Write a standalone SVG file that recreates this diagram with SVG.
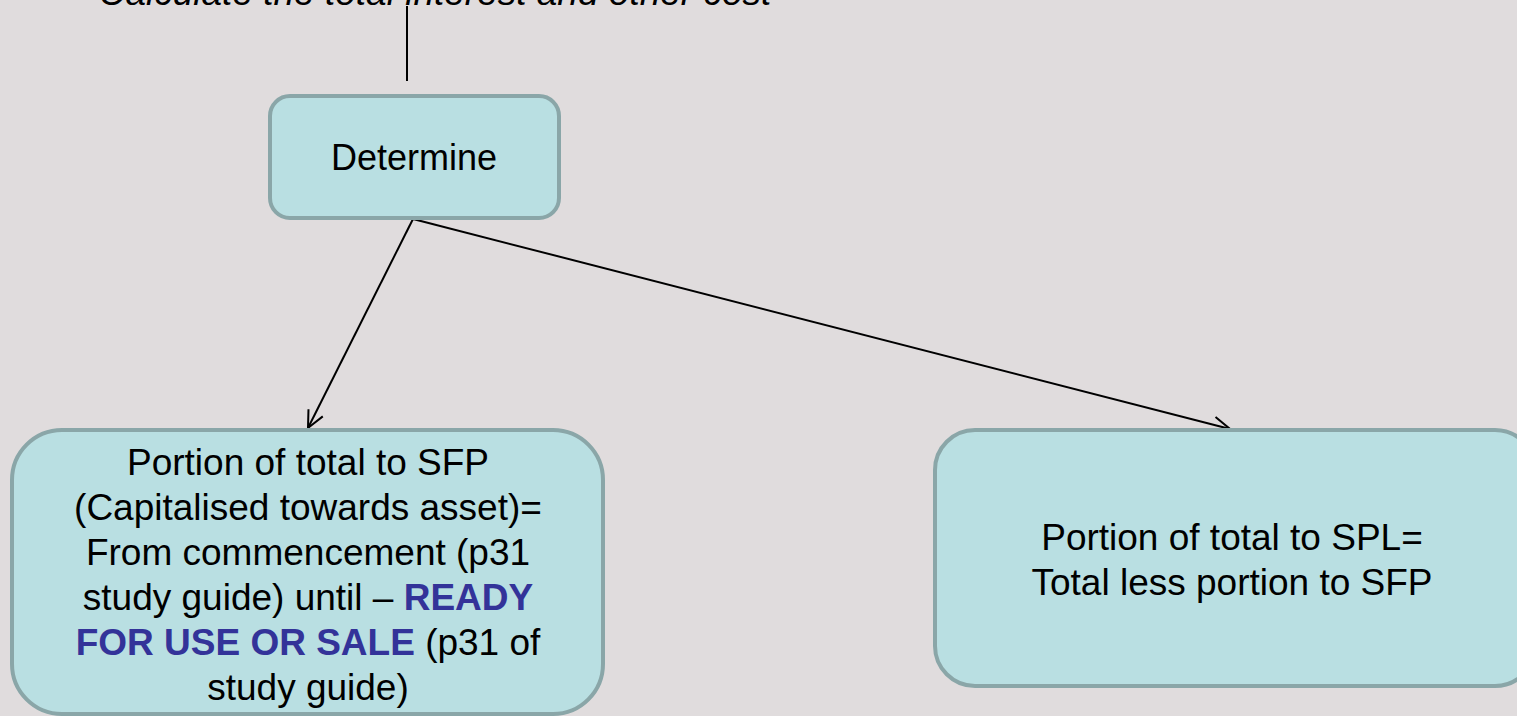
<svg xmlns="http://www.w3.org/2000/svg" width="1517" height="716" viewBox="0 0 1517 716">
<defs>
<style>
.node{fill:#B9DFE2;stroke:#8AA6A8;stroke-width:4}
.t{font-family:"Liberation Sans",Arial,sans-serif;font-size:37px;fill:#000;text-anchor:middle}
.b{font-weight:bold;fill:#333399}
.conn{stroke:#000;stroke-width:2;fill:none}
</style>
<marker id="arr" viewBox="0 0 20 20" refX="19" refY="10" markerWidth="20" markerHeight="20" markerUnits="userSpaceOnUse" orient="auto">
<path d="M2,2 L19,10 L2,18" fill="none" stroke="#000" stroke-width="2"/>
</marker>
</defs>
<rect width="1517" height="716" fill="#E0DCDD"/>
<g id="top-label">
<text class="t" x="435" y="5" font-style="italic">Calculate the total interest and other cost</text>
</g>
<g id="connectors">
<line class="conn" x1="407" y1="6" x2="407" y2="81"/>
<line class="conn" x1="413" y1="219" x2="308" y2="428" marker-end="url(#arr)"/>
<line class="conn" x1="413" y1="219" x2="1230" y2="429" marker-end="url(#arr)"/>
</g>
<g id="determine">
<rect class="node" x="270" y="96" width="289" height="122" rx="20"/>
<text class="t" x="414" y="170" style="font-size:36px">Determine</text>
</g>
<g id="sfp">
<rect class="node" x="12" y="430" width="591" height="284" rx="50"/>
<text class="t" x="308" y="475">Portion of total to SFP</text>
<text class="t" x="308" y="520">(Capitalised towards asset)=</text>
<text class="t" x="308" y="565">From commencement (p31</text>
<text class="t" x="308" y="610">study guide) until – <tspan class="b">READY</tspan></text>
<text class="t" x="308" y="655"><tspan class="b">FOR USE OR SALE</tspan> (p31 of</text>
<text class="t" x="308" y="700">study guide)</text>
</g>
<g id="spl">
<rect class="node" x="935" y="430" width="600" height="256" rx="40"/>
<text class="t" x="1232" y="550">Portion of total to SPL=</text>
<text class="t" x="1232" y="595">Total less portion to SFP</text>
</g>
</svg>
